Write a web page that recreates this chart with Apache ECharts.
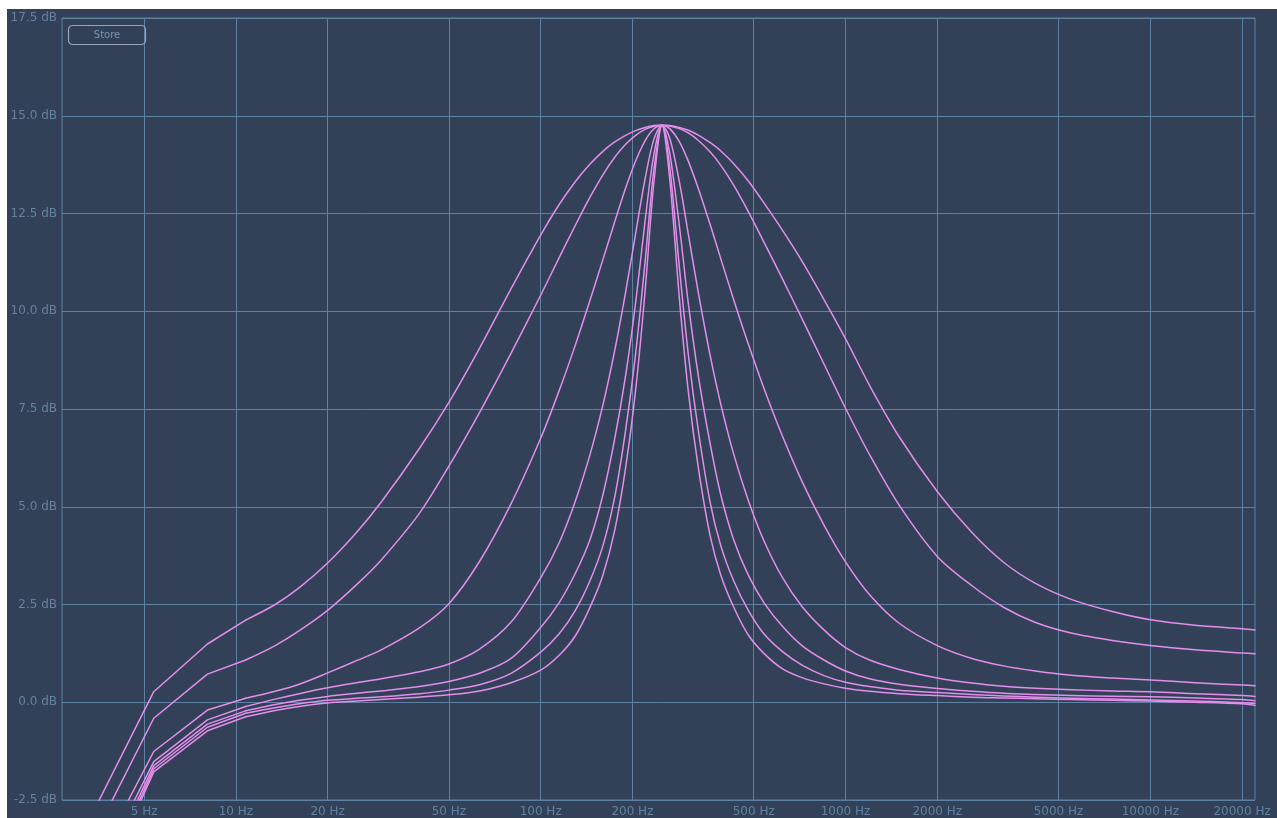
<!DOCTYPE html>
<html><head><meta charset="utf-8">
<script src="https://cdn.jsdelivr.net/npm/echarts@6/dist/echarts.min.js"></script>
<style>
html,body{margin:0;padding:0;background:#ffffff;width:1277px;height:818px;overflow:hidden}
#chart{position:absolute;left:7px;top:9px;width:1270px;height:809px}
</style></head><body><div id="chart"></div>
<script>
// Frequencies (Hz) at which the curves were read
const FREQ = [2.69, 5.38, 8.07, 10.77, 13.46, 16.15, 20, 25, 30, 40, 50, 63, 80, 100, 115, 130, 145, 160, 175, 190, 205, 220, 235, 250, 265, 285, 305, 330, 360, 390, 430, 480, 540, 620, 720, 850, 1000, 1200, 1500, 2000, 2600, 3300, 4200, 5500, 7500, 10000, 14000, 20000, 22050];

// Gain (dB) of each curve, widest to narrowest
const CURVE_1 = [-4.39, 0.27, 1.49, 2.10, 2.50, 2.93, 3.56, 4.36, 5.12, 6.49, 7.67, 9.05, 10.58, 11.95, 12.73, 13.32, 13.76, 14.09, 14.33, 14.50, 14.62, 14.70, 14.75, 14.76, 14.75, 14.70, 14.63, 14.50, 14.31, 14.10, 13.77, 13.33, 12.77, 12.08, 11.28, 10.3, 9.3, 8.1, 6.79, 5.39, 4.34, 3.58, 3.04, 2.63, 2.32, 2.11, 1.97, 1.88, 1.85];
const CURVE_2 = [-5.04, -0.41, 0.72, 1.08, 1.45, 1.83, 2.35, 3.02, 3.64, 4.83, 6.04, 7.41, 8.93, 10.41, 11.37, 12.2, 12.91, 13.49, 13.94, 14.27, 14.50, 14.65, 14.73, 14.76, 14.74, 14.67, 14.56, 14.36, 14.07, 13.73, 13.22, 12.55, 11.77, 10.84, 9.81, 8.65, 7.52, 6.33, 5.04, 3.73, 2.98, 2.43, 2.04, 1.77, 1.58, 1.45, 1.34, 1.26, 1.24];
const CURVE_3 = [-5.77, -1.26, -0.20, 0.10, 0.28, 0.46, 0.75, 1.07, 1.34, 1.9, 2.52, 3.6, 5.08, 6.75, 7.97, 9.14, 10.27, 11.32, 12.29, 13.15, 13.85, 14.36, 14.66, 14.76, 14.67, 14.34, 13.84, 13.11, 12.21, 11.34, 10.29, 9.16, 8.03, 6.82, 5.65, 4.53, 3.59, 2.75, 2.02, 1.45, 1.12, 0.93, 0.8, 0.69, 0.62, 0.57, 0.5, 0.44, 0.42];
const CURVE_4 = [-6.2, -1.52, -0.45, -0.11, 0.08, 0.22, 0.37, 0.5, 0.6, 0.78, 0.98, 1.36, 2.05, 3.18, 4.08, 5.15, 6.32, 7.6, 9.0, 10.49, 12.0, 13.38, 14.39, 14.76, 14.43, 13.32, 11.98, 10.42, 8.86, 7.62, 6.34, 5.16, 4.13, 3.2, 2.45, 1.85, 1.4, 1.08, 0.84, 0.62, 0.49, 0.41, 0.36, 0.32, 0.29, 0.27, 0.22, 0.17, 0.15];
const CURVE_5 = [-6.6, -1.62, -0.56, -0.22, -0.06, 0.05, 0.15, 0.23, 0.29, 0.4, 0.53, 0.74, 1.12, 1.91, 2.55, 3.3, 4.15, 5.3, 6.74, 8.36, 10.23, 12.3, 14.0, 14.76, 14.05, 12.2, 10.21, 8.29, 6.6, 5.3, 4.15, 3.25, 2.55, 1.95, 1.45, 1.08, 0.8, 0.6, 0.46, 0.35, 0.28, 0.23, 0.2, 0.17, 0.155, 0.14, 0.11, 0.07, 0.04];
const CURVE_6 = [-6.9, -1.70, -0.64, -0.28, -0.14, -0.04, 0.05, 0.1, 0.14, 0.22, 0.31, 0.45, 0.74, 1.28, 1.75, 2.35, 3.1, 4.0, 5.25, 6.96, 8.93, 11.25, 13.6, 14.76, 13.7, 11.14, 8.9, 6.88, 5.1, 4.0, 3.1, 2.35, 1.75, 1.3, 0.95, 0.68, 0.51, 0.4, 0.31, 0.25, 0.2, 0.16, 0.13, 0.1, 0.08, 0.06, 0.03, -0.01, -0.03];
const CURVE_7 = [-7.0, -1.78, -0.73, -0.37, -0.21, -0.11, -0.02, 0.03, 0.07, 0.13, 0.19, 0.29, 0.5, 0.82, 1.2, 1.7, 2.42, 3.25, 4.4, 6.0, 8.0, 10.5, 13.27, 14.76, 13.4, 10.35, 7.95, 5.93, 4.25, 3.25, 2.43, 1.72, 1.25, 0.86, 0.63, 0.47, 0.36, 0.28, 0.22, 0.17, 0.13, 0.11, 0.09, 0.07, 0.05, 0.03, 0.0, -0.04, -0.08];

// Axis ticks
const X_TICKS = [5, 10, 20, 50, 100, 200, 500, 1000, 2000, 5000, 10000, 20000];
const X_TICK_LABELS = ['5 Hz', '10 Hz', '20 Hz', '50 Hz', '100 Hz', '200 Hz', '500 Hz', '1000 Hz', '2000 Hz', '5000 Hz', '10000 Hz', '20000 Hz'];
const X_MIN = 2.69, X_MAX = 22050;
const Y_MIN = -2.5, Y_MAX = 17.5, Y_STEP = 2.5;
const BUTTON_TEXT = 'Store';

const CURVES = [CURVE_1, CURVE_2, CURVE_3, CURVE_4, CURVE_5, CURVE_6, CURVE_7];
// the lowest analysis bins are joined by straight segments; smoothing starts at this index
const LOW_BINS_END = 3;

const BG = '#334158';
const GRID = '#5d81a2';
const LABEL = '#6680a0';
const CURVE = '#e28eea';
const FONT = '"DejaVu Sans", sans-serif';

const chart = echarts.init(document.getElementById('chart'), null, {renderer: 'canvas'});

const series = [{
  type: 'line',
  data: [],
  silent: true,
  markLine: {
    silent: true,
    z: 1,
    symbol: ['none', 'none'],
    animation: false,
    lineStyle: {color: GRID, width: 1, type: 'solid'},
    emphasis: {disabled: true},
    label: {
      show: true, position: 'start', distance: 6,
      color: LABEL, fontSize: 12, fontFamily: FONT,
      formatter: '{b}'
    },
    data: X_TICKS.map((v, i) => ({xAxis: v, name: X_TICK_LABELS[i]}))
  }
}];

function lineSeries(points, smooth) {
  return {
    type: 'line',
    data: points,
    showSymbol: false,
    symbol: 'none',
    smooth: smooth,
    clip: true,
    silent: true,
    z: 3,
    lineStyle: {color: CURVE, width: 1.5, cap: 'round', join: 'round'},
    emphasis: {disabled: true}
  };
}

CURVES.forEach((vals) => {
  const pts = FREQ.map((f, i) => [f, vals[i]]);
  series.push(lineSeries(pts.slice(0, LOW_BINS_END + 1), false));
  series.push(lineSeries(pts.slice(LOW_BINS_END), 0.3));
});

chart.setOption({
  backgroundColor: BG,
  animation: false,
  grid: {left: 55, top: 9, right: 22, bottom: 18, show: true, borderColor: GRID, borderWidth: 1, backgroundColor: 'transparent', containLabel: false},
  xAxis: {
    type: 'log', logBase: 10, min: X_MIN, max: X_MAX,
    axisLine: {show: false}, axisTick: {show: false}, axisLabel: {show: false}, splitLine: {show: false}
  },
  yAxis: {
    type: 'value', min: Y_MIN, max: Y_MAX, interval: Y_STEP,
    axisLine: {show: false}, axisTick: {show: false},
    axisLabel: {margin: 5, color: LABEL, fontSize: 12, fontFamily: FONT, formatter: (v) => v.toFixed(1) + ' dB'},
    splitLine: {show: true, lineStyle: {color: GRID, width: 1}}
  },
  graphic: [
    {type: 'rect', x: 61.5, y: 16.5, z: 100, silent: true,
     shape: {x: 0, y: 0, width: 77, height: 19, r: 4},
     style: {fill: 'rgba(0,0,0,0)', stroke: '#98a5b6', lineWidth: 1.2}},
    {type: 'text', x: 100, y: 26, z: 101, silent: true,
     style: {text: BUTTON_TEXT, fill: '#7893b4', font: '10px ' + FONT, textAlign: 'center', textVerticalAlign: 'middle'}}
  ],
  series: series
});
</script></body></html>
